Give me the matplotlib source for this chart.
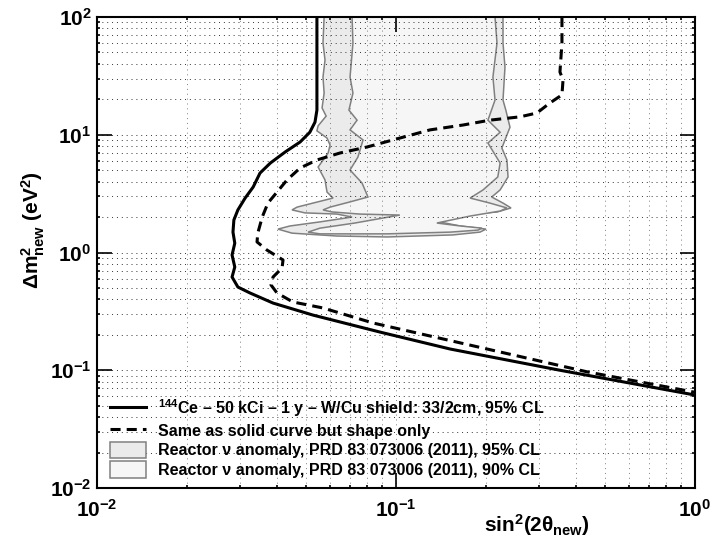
import matplotlib
matplotlib.use('Agg')
import matplotlib.pyplot as plt
from matplotlib.lines import Line2D
from matplotlib.patches import Patch
from matplotlib.ticker import LogLocator, NullFormatter

plt.rcParams['font.family'] = ['Liberation Sans', 'DejaVu Sans']
plt.rcParams['font.weight'] = 'bold'
plt.rcParams['axes.labelweight'] = 'bold'
plt.rcParams['mathtext.fontset'] = 'custom'
plt.rcParams['mathtext.rm'] = 'Liberation Sans:bold'
plt.rcParams['mathtext.it'] = 'Liberation Sans:bold'
plt.rcParams['mathtext.bf'] = 'Liberation Sans:bold'
plt.rcParams['mathtext.sf'] = 'Liberation Sans:bold'

# 144Ce - 50 kCi - 1 y, 95% CL sensitivity (rate + shape)
ce_sin2 = [0.0544, 0.0544, 0.0536, 0.0515, 0.0478, 0.0426, 0.0380, 0.0351, 0.0333,
           0.0313, 0.0296, 0.0287, 0.0285, 0.0289, 0.0283, 0.0289, 0.0283, 0.0296,
           0.0325, 0.0388, 0.0528, 0.0884, 0.1517, 0.3535, 1.0]
ce_dm2 = [100, 16.2, 12.8, 10.5, 8.68, 7.14, 5.75, 4.73, 3.60,
          2.90, 2.30, 1.89, 1.49, 1.20, 0.953, 0.753, 0.619, 0.509,
          0.453, 0.372, 0.294, 0.211, 0.1515, 0.100, 0.0616]

# same, shape only
shape_sin2 = [0.359, 0.359, 0.3535, 0.362, 0.359, 0.327, 0.296, 0.260, 0.206, 0.1676,
              0.130, 0.1031, 0.080, 0.065, 0.0544, 0.0478, 0.0432, 0.040, 0.0373,
              0.0357, 0.0345, 0.0343, 0.0370, 0.0419, 0.0416, 0.0388, 0.0382, 0.040,
              0.0452, 0.0570, 0.0838, 0.4385, 1.0]
shape_dm2 = [100, 60.1, 34.1, 29.2, 21.8, 18.6, 15.3, 14.2, 13.3, 12.1,
             11.0, 9.38, 7.87, 7.0, 6.11, 5.22, 4.13, 3.26, 2.63,
             2.0, 1.46, 1.23, 1.05, 0.864, 0.739, 0.619, 0.530, 0.453,
             0.380, 0.338, 0.252, 0.0966, 0.065]

# reactor antineutrino anomaly, 95% CL contour
rea95_sin2 = [0.0575, 0.0570, 0.0579, 0.0570, 0.0575, 0.0566, 0.0584, 0.0549, 0.0544,
              0.0588, 0.0602, 0.0593, 0.0549, 0.0579, 0.0588, 0.0616, 0.0528, 0.0467,
              0.0449, 0.0496, 0.0635, 0.0713, 0.0557, 0.0442, 0.0403, 0.0449, 0.0635,
              0.0933, 0.155, 0.191, 0.200, 0.164, 0.135, 0.177, 0.218, 0.2425, 0.228,
              0.209, 0.223, 0.237, 0.235, 0.226, 0.2315, 0.2406, 0.233, 0.228, 0.2315,
              0.228, 0.228]
rea95_dm2 = [100, 60.1, 43.1, 30.9, 22.6, 16.9, 14.4, 11.9, 10.8,
             9.38, 8.18, 7.0, 5.32, 4.13, 3.26, 2.90, 2.63, 2.43,
             2.30, 2.17, 2.12, 2.00, 1.82, 1.68, 1.58, 1.46, 1.38,
             1.355, 1.41, 1.49, 1.58, 1.68, 1.85, 2.12, 2.21, 2.39, 2.63,
             2.96, 3.40, 4.38, 6.11, 7.72, 9.03, 11.6, 16.2, 19.7, 37.6,
             60.1, 100]

# reactor antineutrino anomaly, 90% CL contour
rea90_sin2 = [0.0713, 0.0718, 0.0702, 0.0718, 0.0696, 0.0741, 0.0702, 0.0776, 0.0746,
              0.0702, 0.0770, 0.0806, 0.0702, 0.0602, 0.0570, 0.0611, 0.0758, 0.103,
              0.0729, 0.0557, 0.0508, 0.0557, 0.0933, 0.152, 0.188, 0.194, 0.164,
              0.137, 0.177, 0.223, 0.235, 0.206, 0.177, 0.1955, 0.219, 0.223, 0.203,
              0.223, 0.203, 0.2144, 0.211, 0.2177, 0.2144]
rea90_dm2 = [100, 60.1, 30.9, 22.6, 16.2, 13.3, 11.0, 9.03, 6.47,
             5.02, 3.89, 2.96, 2.69, 2.43, 2.30, 2.21, 2.12, 2.08,
             1.78, 1.61, 1.49, 1.44, 1.44, 1.49, 1.55, 1.61, 1.68,
             1.78, 2.04, 2.25, 2.39, 2.63, 2.90, 3.40, 4.38, 5.75, 8.51,
             10.5, 13.3, 19.7, 30.9, 60.1, 100]

labels = [r'$^{144}$Ce – 50 kCi – 1 y – W/Cu shield: 33/2cm, 95% CL',
          'Same as solid curve but shape only',
          'Reactor ν anomaly, PRD 83 073006 (2011), 95% CL',
          'Reactor ν anomaly, PRD 83 073006 (2011), 90% CL']

fig = plt.figure(figsize=(7.12, 5.4), dpi=100)
ax = fig.add_axes([0.1362, 0.0963, 0.8399, 0.8722])

ax.fill(rea95_sin2, rea95_dm2, facecolor='#ebebeb', edgecolor='#808080', lw=1.1, zorder=1)
ax.fill(rea90_sin2, rea90_dm2, facecolor='#f6f6f6', edgecolor='#808080', lw=1.1, zorder=1.1)
ax.plot(ce_sin2, ce_dm2, color='black', lw=2.2, zorder=3)
ax.plot(shape_sin2, shape_dm2, color='black', lw=2.2, ls=(0, (3.3, 2)), zorder=3)

ax.set_xscale('log')
ax.set_yscale('log')
ax.set_xlim(1e-2, 1)
ax.set_ylim(1e-2, 1e2)

for axis in (ax.xaxis, ax.yaxis):
    axis.set_major_locator(LogLocator(base=10, numticks=10))
    axis.set_minor_locator(LogLocator(base=10, subs=range(2, 10), numticks=20))
    axis.set_minor_formatter(NullFormatter())

ax.tick_params(which='both', direction='in', top=True, right=True, width=1.2)
ax.tick_params(which='major', length=11, labelsize=15)
ax.tick_params(axis='y', which='major', pad=4)
ax.tick_params(axis='x', which='major', pad=8)
for s in ax.spines.values():
    s.set_linewidth(1.5)

ax.set_axisbelow('line')
ax.grid(True, which='both', axis='y', color='#333333', lw=0.7, ls=(0, (1, 4)))
ax.grid(True, which='both', axis='x', color='#808080', lw=0.7, ls=(0, (1, 4)))

ax.set_xlabel(r'sin$^{2}$(2$\theta_{\rm new}$)', fontsize=15, fontweight='bold',
              ha='right', va='top')
ax.xaxis.set_label_coords(0.824, -0.052)
ax.text(-0.107, 0.548, r'Δm$^{2}_{\rm new}$ (eV$^{2}$)', fontsize=15, rotation=90,
        ha='center', va='center', transform=ax.transAxes)

handles = [Line2D([], [], color='black', lw=2.2),
           Line2D([], [], color='black', lw=2.2, ls=(0, (3.3, 2))),
           Patch(facecolor='#ebebeb', edgecolor='#808080', lw=1.1),
           Patch(facecolor='#f6f6f6', edgecolor='#808080', lw=1.1)]
ax.legend(handles, labels, loc='lower left', bbox_to_anchor=(0.0217, 0.0212),
          frameon=False, fontsize=11.5, handlelength=2.25, handleheight=1.19,
          handletextpad=0.75, labelspacing=0.2, borderpad=0, borderaxespad=0)

fig.savefig('out.png', dpi=100)
